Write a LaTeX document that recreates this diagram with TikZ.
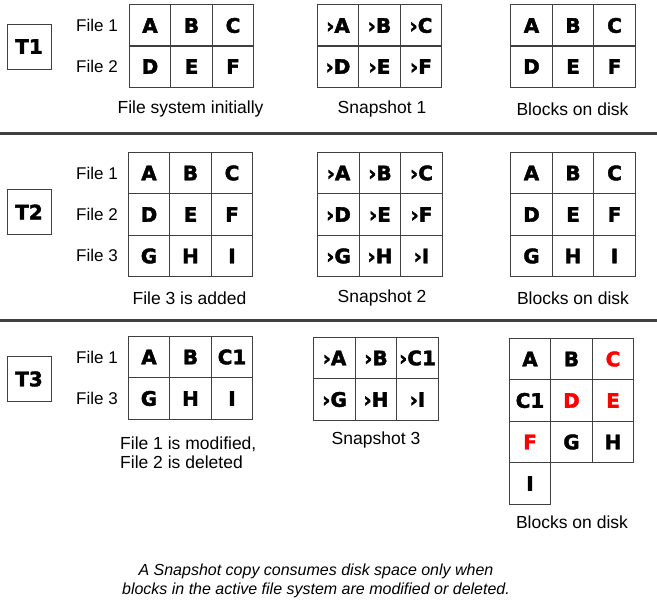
\documentclass[tikz,border=0pt]{standalone}
\usepackage{fontspec}
\setmainfont{Liberation Sans}
\newfontfamily\heavyfont{DejaVu Sans}[UprightFont={*/B}, FakeBold=2]
\definecolor{linegray}{RGB}{64,64,64}
\begin{document}
\begin{tikzpicture}[x=1pt,y=-1pt]

    \tikzset{cell/.style={draw=linegray,line width=0.9pt,minimum width=41.5pt,minimum height=41.5pt,inner sep=0pt,font=\heavyfont\fontsize{20}{24}\selectfont},
             tbox/.style={draw=linegray,line width=0.9pt,minimum width=44pt,minimum height=45pt,inner sep=0pt,font=\heavyfont\fontsize{20}{24}\selectfont},
             lbl/.style={anchor=east,inner sep=0pt,font=\fontsize{17}{19}\selectfont},
             captext/.style={inner sep=0pt,font=\fontsize{17.5}{19}\selectfont},
             gone/.style={text=red}}
    \useasboundingbox (0,0) rectangle (657,607);

    % T1
    \node[tbox] (t1) at (29, 46.5) {T1};
    \node[lbl] (t1f1) at (118, 25.5) {File 1};
    \node[lbl] (t1f2) at (118, 66.5) {File 2};

    \node[cell] (fsA) at (150, 25.5) {A};
    \node[cell] (fsB) at (191.5, 25.5) {B};
    \node[cell] (fsC) at (233, 25.5) {C};
    \node[cell] (fsD) at (150, 66.5) {D};
    \node[cell] (fsE) at (191.5, 66.5) {E};
    \node[cell] (fsF) at (233, 66.5) {F};
    \node[captext] (fscap) at (190.5, 109) {File system initially};

    \node[cell] (s1A) at (338, 25.5) {›A};
    \node[cell] (s1B) at (379.5, 25.5) {›B};
    \node[cell] (s1C) at (421, 25.5) {›C};
    \node[cell] (s1D) at (338, 66.5) {›D};
    \node[cell] (s1E) at (379.5, 66.5) {›E};
    \node[cell] (s1F) at (421, 66.5) {›F};
    \node[captext] (s1cap) at (382, 109) {Snapshot 1};

    \node[cell] (d1A) at (531.5, 25.5) {A};
    \node[cell] (d1B) at (573, 25.5) {B};
    \node[cell] (d1C) at (614.5, 25.5) {C};
    \node[cell] (d1D) at (531.5, 66.5) {D};
    \node[cell] (d1E) at (573, 66.5) {E};
    \node[cell] (d1F) at (614.5, 66.5) {F};
    \node[captext] (d1cap) at (572.5, 109) {Blocks on disk};

    \draw[linegray,line width=3pt] (0,134) -- (657,134);

    % T2
    \node[tbox] (t2) at (29, 212) {T2};
    \node[lbl] (t2f1) at (118, 173) {File 1};
    \node[lbl] (t2f2) at (118, 214.5) {File 2};
    \node[lbl] (t2f3) at (118, 255.5) {File 3};

    \node[cell] (fs2A) at (149, 173) {A};
    \node[cell] (fs2B) at (190.5, 173) {B};
    \node[cell] (fs2C) at (232, 173) {C};
    \node[cell] (fs2D) at (149, 214.5) {D};
    \node[cell] (fs2E) at (190.5, 214.5) {E};
    \node[cell] (fs2F) at (232, 214.5) {F};
    \node[cell] (fs2G) at (149, 256) {G};
    \node[cell] (fs2H) at (190.5, 256) {H};
    \node[cell] (fs2I) at (232, 256) {I};
    \node[captext] (fs2cap) at (189.5, 298) {File 3 is added};

    \node[cell] (s2A) at (338.5, 173) {›A};
    \node[cell] (s2B) at (380, 173) {›B};
    \node[cell] (s2C) at (421.5, 173) {›C};
    \node[cell] (s2D) at (338.5, 214.5) {›D};
    \node[cell] (s2E) at (380, 214.5) {›E};
    \node[cell] (s2F) at (421.5, 214.5) {›F};
    \node[cell] (s2G) at (338.5, 256) {›G};
    \node[cell] (s2H) at (380, 256) {›H};
    \node[cell] (s2I) at (421.5, 256) {›I};
    \node[captext] (s2cap) at (382, 298) {Snapshot 2};

    \node[cell] (d2A) at (531.5, 173) {A};
    \node[cell] (d2B) at (573, 173) {B};
    \node[cell] (d2C) at (614.5, 173) {C};
    \node[cell] (d2D) at (531.5, 214.5) {D};
    \node[cell] (d2E) at (573, 214.5) {E};
    \node[cell] (d2F) at (614.5, 214.5) {F};
    \node[cell] (d2G) at (531.5, 256) {G};
    \node[cell] (d2H) at (573, 256) {H};
    \node[cell] (d2I) at (614.5, 256) {I};
    \node[captext] (d2cap) at (573, 298) {Blocks on disk};

    \draw[linegray,line width=3pt] (0,320.5) -- (657,320.5);

    % T3
    \node[tbox] (t3) at (29, 379) {T3};
    \node[lbl] (t3f1) at (118, 357) {File 1};
    \node[lbl] (t3f3) at (118, 398.5) {File 3};

    \node[cell] (fs3A) at (149, 357) {A};
    \node[cell] (fs3B) at (190.5, 357) {B};
    \node[cell] (fs3C) at (232, 357) {C1};
    \node[cell] (fs3G) at (149, 398.5) {G};
    \node[cell] (fs3H) at (190.5, 398.5) {H};
    \node[cell] (fs3I) at (232, 398.5) {I};
    \node[captext,anchor=west,align=left] (fs3cap) at (120, 452.5) {File 1 is modified,\\File 2 is deleted};

    \node[cell] (s3A) at (334.5, 358) {›A};
    \node[cell] (s3B) at (376, 358) {›B};
    \node[cell] (s3C) at (417.5, 358) {›C1};
    \node[cell] (s3G) at (334.5, 399.5) {›G};
    \node[cell] (s3H) at (376, 399.5) {›H};
    \node[cell] (s3I) at (417.5, 399.5) {›I};
    \node[captext] (s3cap) at (376, 440) {Snapshot 3};

    \node[cell] (d3A) at (530, 359) {A};
    \node[cell] (d3B) at (571.5, 359) {B};
    \node[cell,gone] (d3C) at (613, 359) {C};
    \node[cell] (d3C1) at (530, 400.5) {C1};
    \node[cell,gone] (d3D) at (571.5, 400.5) {D};
    \node[cell,gone] (d3E) at (613, 400.5) {E};
    \node[cell,gone] (d3F) at (530, 442) {F};
    \node[cell] (d3G) at (571.5, 442) {G};
    \node[cell] (d3H) at (613, 442) {H};
    \node[cell] (d3I) at (530, 483.5) {I};
    \node[captext] (d3cap) at (572, 522) {Blocks on disk};

    % note
    \node[inner sep=0pt,align=center,font=\itshape\fontsize{16}{18.5}\selectfont] (note) at (316, 581)
        {A Snapshot copy consumes disk space only when\\blocks in the active file system are modified or deleted.};
\end{tikzpicture}
\end{document}
